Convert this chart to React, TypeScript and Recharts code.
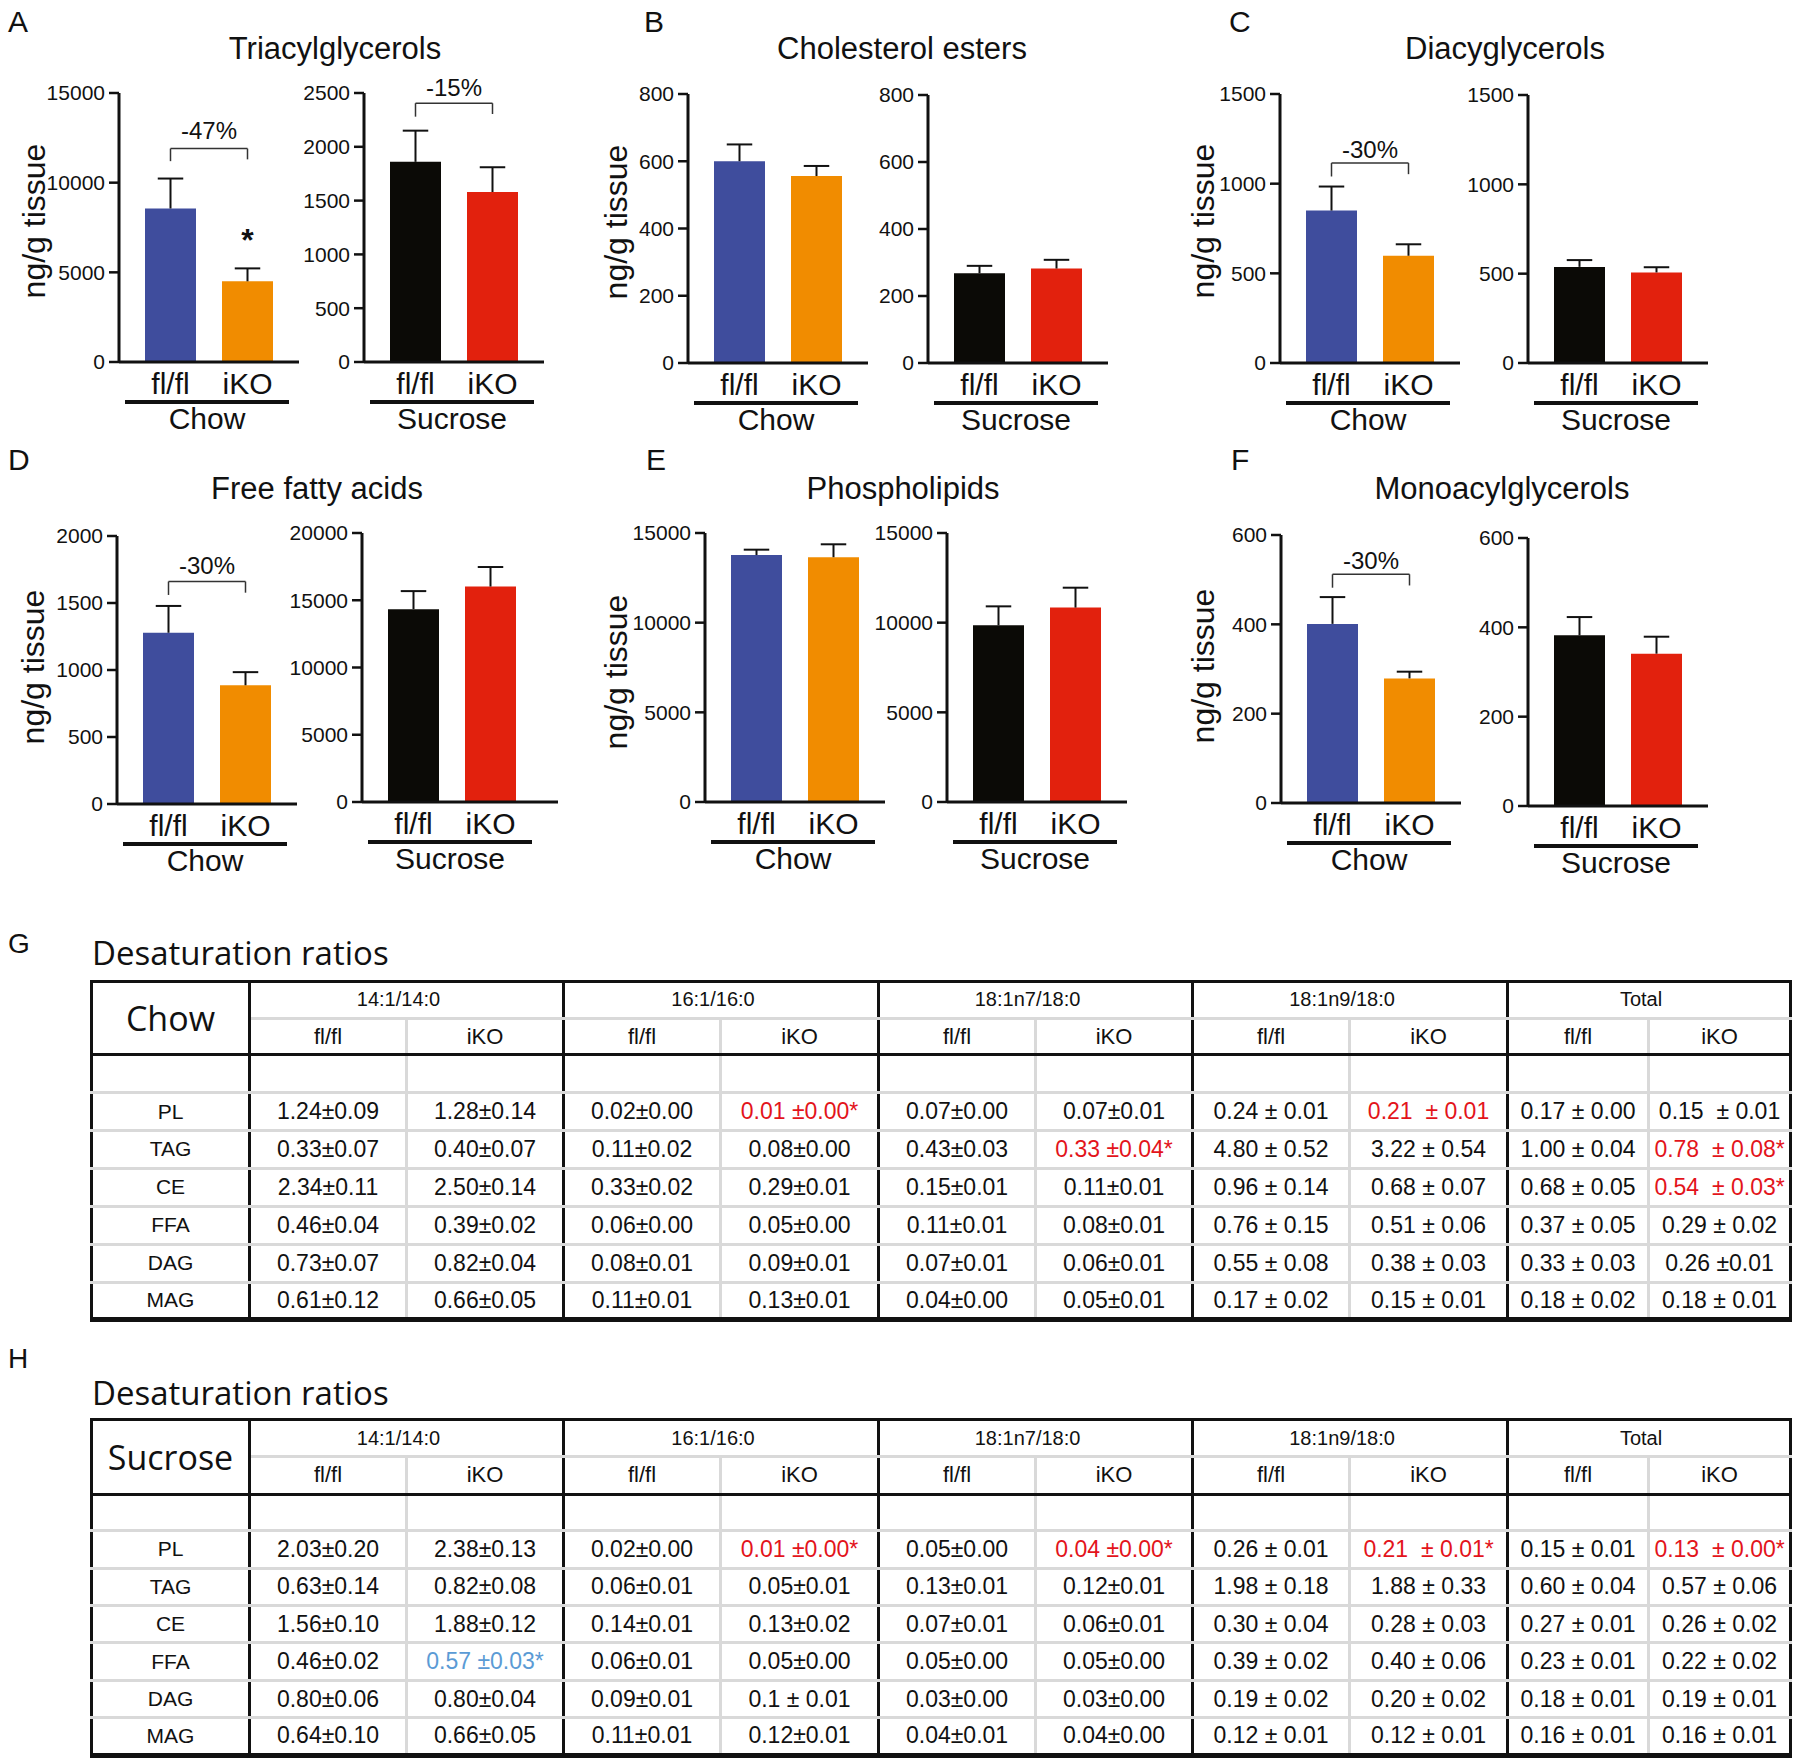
import React from "react";
import {
  Bar,
  BarChart,
  Cell,
  ReferenceDot,
  ReferenceLine,
  XAxis,
  YAxis,
} from "recharts";

const ARIAL = '"Liberation Sans", Arial, Helvetica, sans-serif';
const OPEN = '"Open Sans", "Liberation Sans", sans-serif';
const INK = "#111";
const RED = "#E3141B";
const BLUE = "#5B9BD5";

const genotypes = ["fl/fl", "iKO"];
const chowColors = ["#3F4D9D", "#F18C00"];
const sucroseColors = ["#0B0A06", "#E2210D"];

// A: triacylglycerols (mean, SEM)
const tagChow = [8560, 4500];
const tagChowSem = [1670, 720];
const tagChowTicks = [0, 5000, 10000, 15000];
const tagChowBracket = [11200, 11900, 11300];
const tagChowStar = 6850;
const tagSucrose = [1860, 1580];
const tagSucroseSem = [290, 230];
const tagSucroseTicks = [0, 500, 1000, 1500, 2000, 2500];
const tagSucroseBracket = [2280, 2405, 2305];

// B: cholesterol esters
const ceChow = [600, 556];
const ceChowSem = [50, 30];
const ceSucrose = [268, 282];
const ceSucroseSem = [22, 26];
const ceTicks = [0, 200, 400, 600, 800];

// C: diacylglycerols
const dagChow = [850, 598];
const dagChowSem = [134, 64];
const dagChowBracket = [1040, 1115, 1053];
const dagSucrose = [538, 507];
const dagSucroseSem = [38, 29];
const dagTicks = [0, 500, 1000, 1500];

// D: free fatty acids
const ffaChow = [1278, 886];
const ffaChowSem = [200, 98];
const ffaChowTicks = [0, 500, 1000, 1500, 2000];
const ffaChowBracket = [1560, 1660, 1577];
const ffaSucrose = [14340, 16020];
const ffaSucroseSem = [1340, 1450];
const ffaSucroseTicks = [0, 5000, 10000, 15000, 20000];

// E: phospholipids
const plChow = [13770, 13650];
const plChowSem = [300, 720];
const plSucrose = [9850, 10840];
const plSucroseSem = [1060, 1110];
const plTicks = [0, 5000, 10000, 15000];

// F: monoacylglycerols
const magChow = [401, 279];
const magChowSem = [60, 15];
const magChowBracket = [482, 512, 487];
const magSucrose = [382, 341];
const magSucroseSem = [41, 38];
const magTicks = [0, 200, 400, 600];

// G / H: desaturation ratio tables
const ratioGroups = ["14:1/14:0", "16:1/16:0", "18:1n7/18:0", "18:1n9/18:0", "Total"];
const lipidClasses = ["PL", "TAG", "CE", "FFA", "DAG", "MAG"];

const chowPL = ["1.24±0.09", "1.28±0.14", "0.02±0.00", "0.01 ±0.00*", "0.07±0.00", "0.07±0.01", "0.24 ± 0.01", "0.21  ± 0.01", "0.17 ± 0.00", "0.15  ± 0.01"];
const chowTAG = ["0.33±0.07", "0.40±0.07", "0.11±0.02", "0.08±0.00", "0.43±0.03", "0.33 ±0.04*", "4.80 ± 0.52", "3.22 ± 0.54", "1.00 ± 0.04", "0.78  ± 0.08*"];
const chowCE = ["2.34±0.11", "2.50±0.14", "0.33±0.02", "0.29±0.01", "0.15±0.01", "0.11±0.01", "0.96 ± 0.14", "0.68 ± 0.07", "0.68 ± 0.05", "0.54  ± 0.03*"];
const chowFFA = ["0.46±0.04", "0.39±0.02", "0.06±0.00", "0.05±0.00", "0.11±0.01", "0.08±0.01", "0.76 ± 0.15", "0.51 ± 0.06", "0.37 ± 0.05", "0.29 ± 0.02"];
const chowDAG = ["0.73±0.07", "0.82±0.04", "0.08±0.01", "0.09±0.01", "0.07±0.01", "0.06±0.01", "0.55 ± 0.08", "0.38 ± 0.03", "0.33 ± 0.03", "0.26 ±0.01"];
const chowMAG = ["0.61±0.12", "0.66±0.05", "0.11±0.01", "0.13±0.01", "0.04±0.00", "0.05±0.01", "0.17 ± 0.02", "0.15 ± 0.01", "0.18 ± 0.02", "0.18 ± 0.01"];
const chowRed = ["0-3", "0-7", "1-5", "1-9", "2-9"];

const sucPL = ["2.03±0.20", "2.38±0.13", "0.02±0.00", "0.01 ±0.00*", "0.05±0.00", "0.04 ±0.00*", "0.26 ± 0.01", "0.21  ± 0.01*", "0.15 ± 0.01", "0.13  ± 0.00*"];
const sucTAG = ["0.63±0.14", "0.82±0.08", "0.06±0.01", "0.05±0.01", "0.13±0.01", "0.12±0.01", "1.98 ± 0.18", "1.88 ± 0.33", "0.60 ± 0.04", "0.57 ± 0.06"];
const sucCE = ["1.56±0.10", "1.88±0.12", "0.14±0.01", "0.13±0.02", "0.07±0.01", "0.06±0.01", "0.30 ± 0.04", "0.28 ± 0.03", "0.27 ± 0.01", "0.26 ± 0.02"];
const sucFFA = ["0.46±0.02", "0.57 ±0.03*", "0.06±0.01", "0.05±0.00", "0.05±0.00", "0.05±0.00", "0.39 ± 0.02", "0.40 ± 0.06", "0.23 ± 0.01", "0.22 ± 0.02"];
const sucDAG = ["0.80±0.06", "0.80±0.04", "0.09±0.01", "0.1 ± 0.01", "0.03±0.00", "0.03±0.00", "0.19 ± 0.02", "0.20 ± 0.02", "0.18 ± 0.01", "0.19 ± 0.01"];
const sucMAG = ["0.64±0.10", "0.66±0.05", "0.11±0.01", "0.12±0.01", "0.04±0.01", "0.04±0.00", "0.12 ± 0.01", "0.12 ± 0.01", "0.16 ± 0.01", "0.16 ± 0.01"];
const sucRed = ["0-3", "0-5", "0-7", "0-9"];
const sucBlue = ["3-1"];

const colW = [158, 157, 157, 157, 158, 157, 157, 157, 158, 141, 142];

const YW = 80;
const MT = 46;
const XH = 80;
const RM = 10;

function Txt({ x, base, size, center, font = ARIAL, children }: any) {
  const k = font === OPEN ? 0.888 : 0.8465;
  return (
    <div
      style={{
        position: "absolute",
        left: x,
        top: base - k * size,
        fontSize: size,
        lineHeight: `${size}px`,
        fontFamily: font,
        whiteSpace: "nowrap",
        transform: center ? "translateX(-50%)" : undefined,
      }}
    >
      {children}
    </div>
  );
}

function YLabel({ cx, cy }: { cx: number; cy: number }) {
  return (
    <div
      style={{
        position: "absolute",
        left: cx,
        top: cy,
        fontSize: 32,
        lineHeight: "32px",
        whiteSpace: "nowrap",
        transform: "translate(-50%, -50%) rotate(-90deg)",
      }}
    >
      ng/g tissue
    </div>
  );
}

function Whisker(props: any) {
  const { x, y, width, height } = props;
  if (!width || height == null || isNaN(y)) return null;
  const cx = x + width / 2;
  const half = width / 4;
  return (
    <g>
      <line x1={cx} x2={cx} y1={y + height} y2={y} stroke={INK} strokeWidth={2} />
      <line x1={cx - half} x2={cx + half} y1={y} y2={y} stroke={INK} strokeWidth={2} />
    </g>
  );
}

type MiniProps = {
  axisX: number;
  plotTop: number;
  plotH: number;
  plotW?: number;
  extraRight?: number;
  means: number[];
  sems: number[];
  ticks: number[];
  colors: string[];
  diet: string;
  bracket?: number[];
  pct?: string;
  gap?: number;
  star?: number;
};

function MiniBar(p: MiniProps) {
  const plotW = p.plotW ?? 180;
  const rows = genotypes.map((g, i) => ({ name: g, mean: p.means[i], sem: p.sems[i] }));
  const max = p.ticks[p.ticks.length - 1];
  const axis = { stroke: INK, strokeWidth: 3 };
  const W = YW + plotW + RM;
  const H = MT + p.plotH + XH;
  const b = p.bracket;
  const line = { stroke: "#333", strokeWidth: 1.5 };
  const extras = [];
  if (b) {
    extras.push(
      <ReferenceLine key="bl" segment={[{ x: "fl/fl", y: b[0] }, { x: "fl/fl", y: b[1] }]} {...line} />,
      <ReferenceLine
        key="bt"
        segment={[{ x: "fl/fl", y: b[1] }, { x: "iKO", y: b[1] }]}
        {...line}
        label={{ value: p.pct, position: "top", offset: p.gap ?? 8, fontSize: 24, fill: INK }}
      />,
      <ReferenceLine key="br" segment={[{ x: "iKO", y: b[2] }, { x: "iKO", y: b[1] }]} {...line} />
    );
  }
  if (p.star != null) {
    extras.push(
      <ReferenceDot
        key="star"
        x="iKO"
        y={p.star}
        r={1}
        fill="none"
        stroke="none"
        label={{ value: "*", position: "center", fontSize: 32, fontWeight: "bold", fill: INK }}
      />
    );
  }
  return (
    <div style={{ position: "absolute", left: p.axisX - YW, top: p.plotTop - MT, width: W, height: H }}>
      <BarChart width={W} height={H} data={rows} margin={{ top: MT, right: RM, left: 0, bottom: 0 }} barSize={51}>
        <XAxis
          dataKey="name"
          height={XH}
          interval={0}
          tickLine={false}
          tickSize={0}
          tickMargin={11}
          axisLine={axis}
          tick={{ fontSize: 30, fill: INK }}
          padding={{ left: 13, right: 13 + (p.extraRight ?? 0) }}
        />
        <YAxis
          width={YW}
          domain={[0, max]}
          ticks={p.ticks}
          interval={0}
          allowDataOverflow
          tickSize={10}
          tickMargin={4}
          axisLine={axis}
          tickLine={{ stroke: INK, strokeWidth: 2.5 }}
          tick={{ fontSize: 21, fill: INK }}
        />
        <Bar dataKey="mean" stackId="s" isAnimationActive={false}>
          {rows.map((r, i) => (
            <Cell key={r.name} fill={p.colors[i]} />
          ))}
        </Bar>
        <Bar dataKey="sem" stackId="s" isAnimationActive={false} shape={<Whisker />} />
        {extras}
      </BarChart>
      <div style={{ position: "absolute", left: YW + 6, top: MT + p.plotH + 38, width: 164, height: 3.5, background: INK }} />
      <Txt x={YW + 88} base={MT + p.plotH + 67} size={30} center>
        {p.diet}
      </Txt>
    </div>
  );
}

function RatioTable({ top, diet, rows, red, blue, heights }: any) {
  const black = "3px solid #111";
  const gray = "3px solid #d9d9d9";
  const [h1, h2, h3, hr] = heights;
  const cell: React.CSSProperties = {
    padding: 0,
    textAlign: "center",
    verticalAlign: "middle",
    whiteSpace: "pre",
  };
  const sideBorder = (ci: number) => (ci % 2 === 0 ? gray : ci < 9 ? black : undefined);
  return (
    <table
      style={{
        position: "absolute",
        left: 90,
        top,
        width: 1699,
        borderCollapse: "collapse",
        tableLayout: "fixed",
        borderTop: black,
        borderLeft: black,
        borderRight: black,
        borderBottom: "5px solid #111",
        fontFamily: ARIAL,
        color: INK,
      }}
    >
      <colgroup>
        {colW.map((w, i) => (
          <col key={i} style={{ width: w }} />
        ))}
      </colgroup>
      <tbody>
        <tr style={{ height: h1 }}>
          <td rowSpan={2} style={{ ...cell, borderRight: black, borderBottom: black, fontFamily: OPEN, fontSize: 34 }}>
            {diet}
          </td>
          {ratioGroups.map((g, gi) => (
            <td
              key={g}
              colSpan={2}
              style={{ ...cell, fontSize: 20, paddingRight: 16, borderBottom: gray, borderRight: gi < 4 ? black : undefined }}
            >
              {g}
            </td>
          ))}
        </tr>
        <tr style={{ height: h2 }}>
          {ratioGroups.flatMap((g, gi) =>
            genotypes.map((s, si) => (
              <td key={g + s} style={{ ...cell, fontSize: 22, borderBottom: black, borderRight: sideBorder(gi * 2 + si) }}>
                {s}
              </td>
            ))
          )}
        </tr>
        <tr style={{ height: h3 }}>
          <td style={{ ...cell, borderRight: black, borderBottom: gray }} />
          {colW.slice(1).map((_, ci) => (
            <td key={ci} style={{ ...cell, borderRight: sideBorder(ci), borderBottom: gray }} />
          ))}
        </tr>
        {rows.map((vals: string[], ri: number) => (
          <tr key={lipidClasses[ri]} style={{ height: hr }}>
            <td style={{ ...cell, fontSize: 21, borderRight: black, borderBottom: ri < 5 ? gray : undefined }}>
              {lipidClasses[ri]}
            </td>
            {vals.map((v, ci) => {
              const id = `${ri}-${ci}`;
              const color = red.includes(id) ? RED : blue.includes(id) ? BLUE : INK;
              return (
                <td
                  key={ci}
                  style={{ ...cell, fontSize: 23, color, borderRight: sideBorder(ci), borderBottom: ri < 5 ? gray : undefined }}
                >
                  {v}
                </td>
              );
            })}
          </tr>
        ))}
      </tbody>
    </table>
  );
}

export default function App() {
  return (
    <div
      style={{
        position: "absolute",
        left: 0,
        top: 0,
        width: 1800,
        height: 1763,
        background: "#fff",
        color: INK,
        fontFamily: ARIAL,
        overflow: "hidden",
      }}
    >
      {/* row 1 */}
      <Txt x={8} base={32} size={30}>A</Txt>
      <Txt x={335} base={59} size={31} center>Triacylglycerols</Txt>
      <YLabel cx={34} cy={221} />
      <MiniBar axisX={119} plotTop={93} plotH={269} means={tagChow} sems={tagChowSem} ticks={tagChowTicks} colors={chowColors} diet="Chow" bracket={tagChowBracket} pct="-47%" gap={10} star={tagChowStar} />
      <MiniBar axisX={364} plotTop={93} plotH={269} means={tagSucrose} sems={tagSucroseSem} ticks={tagSucroseTicks} colors={sucroseColors} diet="Sucrose" bracket={tagSucroseBracket} pct="-15%" gap={7} />

      <Txt x={644} base={32} size={30}>B</Txt>
      <Txt x={902} base={59} size={31} center>Cholesterol esters</Txt>
      <YLabel cx={616} cy={222} />
      <MiniBar axisX={688} plotTop={94} plotH={269} means={ceChow} sems={ceChowSem} ticks={ceTicks} colors={chowColors} diet="Chow" />
      <MiniBar axisX={928} plotTop={95} plotH={268} means={ceSucrose} sems={ceSucroseSem} ticks={ceTicks} colors={sucroseColors} diet="Sucrose" />

      <Txt x={1229} base={32} size={30}>C</Txt>
      <Txt x={1505} base={59} size={31} center>Diacyglycerols</Txt>
      <YLabel cx={1203} cy={221} />
      <MiniBar axisX={1280} plotTop={94} plotH={269} means={dagChow} sems={dagChowSem} ticks={dagTicks} colors={chowColors} diet="Chow" bracket={dagChowBracket} pct="-30%" gap={5} />
      <MiniBar axisX={1528} plotTop={95} plotH={268} means={dagSucrose} sems={dagSucroseSem} ticks={dagTicks} colors={sucroseColors} diet="Sucrose" />

      {/* row 2 */}
      <Txt x={8} base={470} size={30}>D</Txt>
      <Txt x={317} base={499} size={31} center>Free fatty acids</Txt>
      <YLabel cx={33} cy={667} />
      <MiniBar axisX={117} plotTop={536} plotH={268} means={ffaChow} sems={ffaChowSem} ticks={ffaChowTicks} colors={chowColors} diet="Chow" bracket={ffaChowBracket} pct="-30%" gap={8} />
      <MiniBar axisX={362} plotTop={533} plotH={269} plotW={196} extraRight={16} means={ffaSucrose} sems={ffaSucroseSem} ticks={ffaSucroseTicks} colors={sucroseColors} diet="Sucrose" />

      <Txt x={646} base={470} size={30}>E</Txt>
      <Txt x={903} base={499} size={31} center>Phospholipids</Txt>
      <YLabel cx={616} cy={672} />
      <MiniBar axisX={705} plotTop={533} plotH={269} means={plChow} sems={plChowSem} ticks={plTicks} colors={chowColors} diet="Chow" />
      <MiniBar axisX={947} plotTop={533} plotH={269} means={plSucrose} sems={plSucroseSem} ticks={plTicks} colors={sucroseColors} diet="Sucrose" />

      <Txt x={1231} base={470} size={30}>F</Txt>
      <Txt x={1502} base={499} size={31} center>Monoacylglycerols</Txt>
      <YLabel cx={1203} cy={666} />
      <MiniBar axisX={1281} plotTop={535} plotH={268} means={magChow} sems={magChowSem} ticks={magTicks} colors={chowColors} diet="Chow" bracket={magChowBracket} pct="-30%" gap={5} />
      <MiniBar axisX={1528} plotTop={538} plotH={268} means={magSucrose} sems={magSucroseSem} ticks={magTicks} colors={sucroseColors} diet="Sucrose" />

      {/* tables */}
      <Txt x={8} base={954} size={28}>G</Txt>
      <Txt x={92} base={965} size={33} font={OPEN}>Desaturation ratios</Txt>
      <RatioTable
        top={980}
        diet="Chow"
        rows={[chowPL, chowTAG, chowCE, chowFFA, chowDAG, chowMAG]}
        red={chowRed}
        blue={[]}
        heights={[36.7, 36.7, 37.7, 37.9]}
      />

      <Txt x={8} base={1369} size={28}>H</Txt>
      <Txt x={92} base={1405} size={33} font={OPEN}>Desaturation ratios</Txt>
      <RatioTable
        top={1418}
        diet="Sucrose"
        rows={[sucPL, sucTAG, sucCE, sucFFA, sucDAG, sucMAG]}
        red={sucRed}
        blue={sucBlue}
        heights={[37.3, 37.3, 36.7, 37.4]}
      />
    </div>
  );
}
